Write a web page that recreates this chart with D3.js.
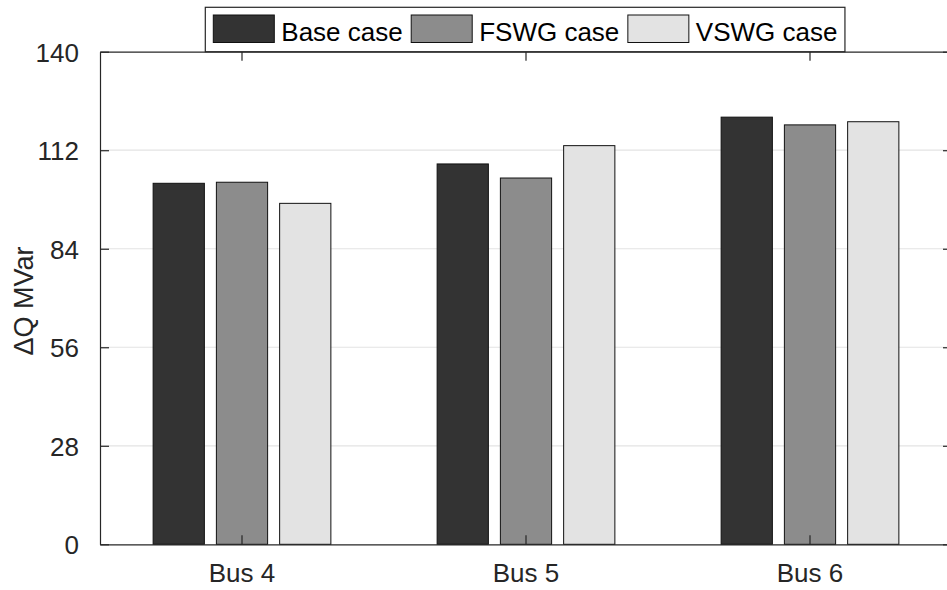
<!DOCTYPE html>
<html>
<head>
<meta charset="utf-8">
<script src="https://cdn.jsdelivr.net/npm/d3@7"></script>
<style>
  body { margin: 0; background: #fff; }
  svg { display: block; font-family: "Liberation Sans", Arial, sans-serif; }
</style>
</head>
<body>
<svg></svg>
<script>
const categories = ["Bus 4", "Bus 5", "Bus 6"];
const seriesNames = ["Base case", "FSWG case", "VSWG case"];
const baseValues = [102.6, 108.1, 121.4];
const fswgValues = [102.9, 104.1, 119.2];
const vswgValues = [96.9, 113.3, 120.1];
const yTicks = [0, 28, 56, 84, 112, 140];
const colors = ["#333333", "#8c8c8c", "#e3e3e3"];

const width = 947;
const height = 590;
const plotLeft = 100, plotRight = 952, plotTop = 51.7, plotBottom = 544.3;

const svg = d3.select("svg").attr("width", width).attr("height", height);

const seriesValues = [baseValues, fswgValues, vswgValues];
const rows = [];
categories.forEach((c, i) => {
    seriesNames.forEach((s, j) => {
        rows.push({cat: c, series: s, value: seriesValues[j][i], color: colors[j]});
    });
});

const xScale = d3.scaleBand().domain(categories).range([plotLeft, plotRight]);
const xInner = d3.scaleBand().domain(seriesNames)
    .range([0, xScale.bandwidth()])
    .paddingInner(0.19)
    .paddingOuter(0.84);
const yScale = d3.scaleLinear().domain([0, 140]).range([plotBottom, plotTop]);

// grid
svg.append("g").selectAll("line")
    .data(yTicks.filter(d => d > 0 && d < 140))
    .enter()
    .append("line")
    .attr("x1", plotLeft).attr("x2", plotRight)
    .attr("y1", d => yScale(d)).attr("y2", d => yScale(d))
    .attr("stroke", "#e3e3e3")
    .attr("stroke-width", 1.2)

// bars
svg.append("g").selectAll("rect")
    .data(rows)
    .enter()
    .append("rect")
    .attr("x", d => xScale(d.cat) + xInner(d.series))
    .attr("width", xInner.bandwidth())
    .attr("y", d => yScale(d.value))
    .attr("height", d => plotBottom - yScale(d.value))
    .attr("fill", d => d.color)
    .attr("stroke", "#111")
    .attr("stroke-width", 1)

// axes
const axisColor = "#262626";
const yAxis = d3.axisLeft(yScale).tickValues(yTicks).tickSizeInner(-9).tickSizeOuter(0).tickPadding(21);
const gy = svg.append("g").attr("transform", "translate(" + plotLeft + ",0)").call(yAxis);
const yAxisR = d3.axisRight(yScale).tickValues(yTicks).tickSizeInner(-9).tickSizeOuter(0).tickFormat("");
const gyr = svg.append("g").attr("transform", "translate(" + plotRight + ",0)").call(yAxisR);
const xAxis = d3.axisBottom(xScale).tickSizeInner(-9).tickSizeOuter(0).tickPadding(19);
const gx = svg.append("g").attr("transform", "translate(0," + plotBottom + ")").call(xAxis);
const xAxisT = d3.axisTop(xScale).tickSizeInner(-9).tickSizeOuter(0).tickFormat("");
const gxt = svg.append("g").attr("transform", "translate(0," + plotTop + ")").call(xAxisT);

[gy, gyr, gx, gxt].forEach(g => {
    g.select(".domain").attr("stroke", axisColor).attr("stroke-width", 1.2);
    g.selectAll(".tick line").attr("stroke", axisColor).attr("stroke-width", 1.2);
    g.selectAll("text").attr("fill", "#262626").style("font-size", "26px").style("font-family", "Liberation Sans, Arial, sans-serif");
});
gy.selectAll("text").attr("dy", "0.36em");
gx.selectAll("text").attr("dy", "0.72em");

// y label
svg.append("text")
    .attr("transform", "translate(33," + ((plotTop + plotBottom) / 2 + 3) + ") rotate(-90)")
    .attr("text-anchor", "middle")
    .attr("fill", "#262626")
    .style("font-size", "27px")
    .text("\u0394Q MVar")

// legend
const legend = svg.append("g");
const box = legend.append("rect")
    .attr("fill", "#fff")
    .attr("stroke", axisColor)
    .attr("stroke-width", 1.2);
let lx = 213.3;
seriesNames.forEach((s, j) => {
    legend.append("rect")
        .attr("x", lx).attr("y", 15)
        .attr("width", 61).attr("height", 27.5)
        .attr("fill", colors[j])
        .attr("stroke", "#111")
        .attr("stroke-width", 1)
    const t = legend.append("text")
        .attr("x", lx + 68).attr("y", 40.5)
        .attr("fill", "#000")
        .style("font-size", "26px")
        .text(s)
    lx = lx + 68 + t.node().getComputedTextLength() + 8.5;
});
box.attr("x", 205.3).attr("y", 7.3).attr("width", lx - 205.3 - 1).attr("height", 44.4);
</script>
</body>
</html>
